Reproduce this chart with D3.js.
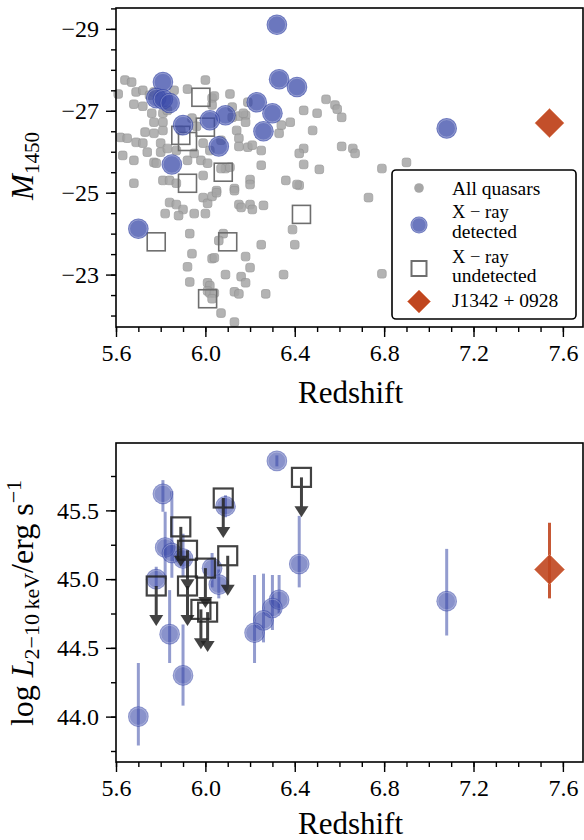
<!DOCTYPE html>
<html>
<head>
<meta charset="utf-8">
<script src="https://cdn.jsdelivr.net/npm/d3@7.9.0/dist/d3.min.js"></script>
<style>
  body { margin: 0; background: #fff; }
  svg text { font-family: "Liberation Serif", "Times New Roman", serif; fill: #000; }
  .tick line { stroke: #000; stroke-width: 1.4; }
  .tick text { font-size: 24px; }
</style>
</head>
<body>
<svg id="fig" width="584" height="840"></svg>
<script>
// ---- data ----
// all quasars (grey background sample)
const allZ = [5.61,5.64,5.67,5.69,5.72,5.75,5.77,5.86,5.92,6.00,6.11,6.03,6.19,5.68,5.72,5.76,5.81,5.83,5.94,6.15,
  6.18,6.12,6.17,6.18,5.62,5.65,5.69,5.72,5.73,5.77,5.81,5.80,5.77,5.81,6.14,6.15,6.15,6.19,6.21,6.25,
  6.33,6.34,6.38,6.44,6.50,6.54,6.58,6.59,6.61,6.48,6.44,6.42,6.44,6.51,6.61,6.66,6.67,6.79,6.90,6.42,
  6.73,6.79,5.63,5.68,5.74,5.77,5.80,5.83,5.87,5.92,5.95,5.78,5.68,5.81,5.84,5.87,5.99,6.09,6.13,6.05,
  6.25,6.11,6.07,6.20,6.20,6.36,6.41,5.84,5.87,5.90,5.82,5.88,5.95,6.00,5.99,6.01,6.03,6.05,6.13,6.15,
  6.16,6.20,6.21,6.26,5.93,6.08,6.06,6.25,6.40,6.39,5.94,6.03,6.04,6.18,6.20,5.92,6.09,6.16,6.18,6.35,
  5.93,6.01,6.02,6.01,6.02,6.04,6.03,6.13,6.15,6.27,6.07,6.13,5.98,6.01,6.03,5.96,5.99,6.12,6.04,6.07,
  6.02,5.89];
const allM = [-27.41,-27.75,-27.70,-27.46,-27.50,-27.38,-27.46,-27.50,-27.53,-27.75,-27.41,-27.31,-27.21,-27.16,-27.11,-26.94,-26.94,-27.01,-26.82,-26.87,
  -26.89,-27.09,-26.94,-26.72,-26.35,-26.33,-26.23,-26.21,-26.48,-26.45,-26.52,-26.21,-26.72,-26.72,-26.52,-26.33,-26.13,-26.11,-26.16,-26.03,
  -26.45,-26.65,-26.72,-27.01,-26.94,-27.28,-27.14,-27.04,-26.84,-26.52,-26.08,-25.96,-25.69,-25.57,-26.13,-26.08,-25.96,-25.59,-25.74,-25.18,
  -24.88,-23.02,-25.91,-25.79,-25.99,-25.74,-25.99,-26.08,-26.03,-25.79,-25.96,-25.72,-25.23,-25.30,-25.30,-25.23,-25.42,-25.59,-25.10,-25.05,
  -25.67,-25.62,-25.59,-25.32,-25.20,-25.30,-25.20,-24.76,-24.71,-24.59,-24.49,-24.44,-24.49,-24.49,-24.88,-24.74,-24.91,-25.00,-25.05,-24.71,
  -24.64,-24.71,-24.59,-24.69,-24.00,-24.00,-23.83,-23.73,-23.73,-24.10,-23.51,-23.39,-23.41,-23.44,-23.17,-23.19,-23.00,-22.95,-22.80,-23.00,
  -22.82,-22.80,-22.73,-22.60,-22.55,-22.55,-22.41,-22.58,-22.53,-22.53,-22.06,-21.84,-25.79,-25.72,-27.14,-26.62,-26.21,-26.84,-27.36,-26.28,
  -26.03,-26.52];

// X-ray detected (top panel)
const detZ = [6.32,6.33,6.41,5.81,5.78,5.81,5.84,6.23,6.30,6.09,6.02,5.90,6.26,6.06,5.85,5.70,7.08];
const detM = [-29.10,-27.77,-27.58,-27.70,-27.31,-27.28,-27.19,-27.21,-26.94,-26.89,-26.77,-26.65,-26.50,-26.13,-25.69,-24.12,-26.57];

// X-ray detected (bottom panel): log L and error range
const lxZ  = [6.32,5.81,6.09,5.82,5.85,5.90,5.78,6.03,6.06,6.42,6.33,6.30,6.26,6.22,5.84,5.90,5.70,7.08];
const lxL  = [45.86,45.62,45.53,45.23,45.19,45.15,45.00,45.08,44.96,45.11,44.85,44.79,44.70,44.61,44.60,44.30,44.00,44.84];
const lxLo = [45.82,45.49,45.45,45.00,45.01,45.02,44.94,44.94,44.86,44.94,44.75,44.63,44.54,44.39,44.39,44.08,43.79,44.59];
const lxHi = [45.90,45.72,45.61,45.49,45.64,45.33,45.09,45.19,45.07,45.46,45.03,45.03,45.04,45.03,44.92,44.67,44.39,45.22];

// X-ray undetected (upper limits)
const undZ = [5.98,6.00,5.89,5.92,5.92,6.08,5.78,6.10,6.01,6.43];
const undM = [-27.33,-26.60,-26.40,-26.25,-25.23,-25.50,-23.80,-23.80,-22.41,-24.47];
const undL = [44.78,45.08,45.38,45.21,44.95,45.59,44.95,45.17,44.76,45.74];
const undArrow = 0.25;

// J1342+0928
const jZ = 7.54, jM = -26.70, jL = 45.07, jLo = 44.86, jHi = 45.41;

// ticks
const zMajor = [5.6, 6.0, 6.4, 6.8, 7.2, 7.6];
const zMinor = d3.range(56, 77).map(d => d / 10);
const mMajor = [-29, -27, -25, -23];
const mMinor = d3.range(-59, -43).map(d => d / 2);
const lMajor = [44.0, 44.5, 45.0, 45.5];
const lMinor = d3.range(175, 184).map(d => d / 4);

const legendItems = ['All quasars', ['X \u2212 ray', 'detected'], ['X \u2212 ray', 'undetected'], 'J1342 + 0928'];

// ---- layout ----
const svg = d3.select('#fig');
const X0 = 116, X1 = 583;
const topR = [8, 327], botR = [443, 762];

const x    = d3.scaleLinear().domain([5.6, 7.69]).range([X0, X1]);
const yTop = d3.scaleLinear().domain([-29.51, -21.72]).range(topR);
const yBot = d3.scaleLinear().domain([43.67, 45.99]).range([botR[1], botR[0]]);

const BLUE = '#3a4aa8', RED = '#c0461f';

function diamond(cx, cy, r) {
  return `M${cx},${cy - r}L${cx + r},${cy}L${cx},${cy + r}L${cx - r},${cy}Z`;
}

function axes(g, y, yr, major, minor, fmt) {
  const bx = g.append('g').attr('transform', `translate(0,${yr[1]})`);
  bx.append('g').call(d3.axisBottom(x).tickValues(zMinor).tickSize(5).tickFormat(''));
  bx.append('g').call(d3.axisBottom(x).tickValues(zMajor).tickSize(10).tickPadding(7).tickFormat(d3.format('.1f')));
  const ly = g.append('g').attr('transform', `translate(${X0},0)`);
  ly.append('g').call(d3.axisLeft(y).tickValues(minor).tickSize(5).tickFormat(''));
  ly.append('g').call(d3.axisLeft(y).tickValues(major).tickSize(10).tickPadding(7).tickFormat(fmt));
  g.selectAll('.domain').remove();
  g.append('rect')
    .attr('x', X0).attr('y', yr[0]).attr('width', X1 - X0).attr('height', yr[1] - yr[0])
    .attr('fill', 'none').attr('stroke', '#000').attr('stroke-width', 1.6);
}

// ---- top panel ----
const topG = svg.append('g');

topG.selectAll('rect.all').data(allZ).join('rect')
  .attr('class', 'all')
  .attr('x', d => x(d) - 4.3).attr('y', (d, i) => yTop(allM[i]) - 4.3)
  .attr('width', 8.6).attr('height', 8.6).attr('rx', 2.5)
  .attr('fill', '#a6a6a6').attr('stroke', '#939393').attr('stroke-width', 0.8).attr('opacity', 0.85);

topG.selectAll('rect.und').data(undZ).join('rect')
  .attr('class', 'und')
  .attr('x', d => x(d) - 9).attr('y', (d, i) => yTop(undM[i]) - 9)
  .attr('width', 18).attr('height', 18)
  .attr('fill', 'none').attr('stroke', '#6e6e6e').attr('stroke-width', 1.6);

const detG = topG.selectAll('g.det').data(detZ).join('g')
  .attr('class', 'det')
  .attr('transform', (d, i) => `translate(${x(d)},${yTop(detM[i])})`);
detG.append('circle').attr('r', 10.3).attr('fill', BLUE).attr('fill-opacity', 0.75);
detG.append('circle').attr('r', 8.8).attr('fill', 'none').attr('stroke', '#fff').attr('stroke-opacity', 0.35).attr('stroke-width', 0.8);

topG.append('path').attr('d', diamond(x(jZ), yTop(jM), 14.5))
  .attr('fill', RED).attr('fill-opacity', 0.95).attr('stroke', '#e08a6a').attr('stroke-width', 0.8);

axes(topG, yTop, topR, mMajor, mMinor, d3.format('d'));

topG.append('text').attr('x', (X0 + X1) / 2 + 1).attr('y', 392).attr('dy', '0.35em')
  .attr('text-anchor', 'middle').attr('font-size', 31).text('Redshift');

const ml = topG.append('text').attr('transform', 'translate(33,166) rotate(-90)')
  .attr('text-anchor', 'middle').attr('font-size', 31);
ml.append('tspan').attr('font-style', 'italic').text('M');
ml.append('tspan').attr('font-size', 21).attr('dy', 6).text('1450');

// legend
const lg = topG.append('g');
lg.append('rect').attr('x', 392).attr('y', 170).attr('width', 184).attr('height', 149).attr('rx', 4)
  .attr('fill', '#fff').attr('stroke', '#000').attr('stroke-width', 1.6);
const LX = 419, TX = 452;
lg.append('circle').attr('cx', LX).attr('cy', 188).attr('r', 4.8).attr('fill', '#a6a6a6');
lg.append('circle').attr('cx', LX).attr('cy', 225).attr('r', 8.5).attr('fill', BLUE).attr('fill-opacity', 0.75);
lg.append('circle').attr('cx', LX).attr('cy', 225).attr('r', 7.2).attr('fill', 'none')
  .attr('stroke', '#fff').attr('stroke-opacity', 0.35).attr('stroke-width', 0.8);
lg.append('rect').attr('x', LX - 7.5).attr('y', 261).attr('width', 15).attr('height', 15)
  .attr('fill', 'none').attr('stroke', '#6e6e6e').attr('stroke-width', 2);
lg.append('path').attr('d', diamond(LX, 301.5, 11.5)).attr('fill', RED).attr('stroke', '#e08a6a').attr('stroke-width', 0.8);
const lineY = [[188], [211.5, 231], [256, 275.5], [300.5]];
legendItems.forEach((t, i) => {
  const lines = Array.isArray(t) ? t : [t];
  lines.forEach((s, k) => lg.append('text').attr('x', TX).attr('y', lineY[i][k] + 6.5)
    .attr('font-size', k === 0 && lines.length > 1 ? 18.5 : 19.5).text(s));
});

// ---- bottom panel ----
const botG = svg.append('g');

botG.selectAll('line.err').data(lxZ).join('line')
  .attr('class', 'err')
  .attr('x1', d => x(d)).attr('x2', d => x(d))
  .attr('y1', (d, i) => yBot(lxLo[i])).attr('y2', (d, i) => yBot(lxHi[i]))
  .attr('stroke', BLUE).attr('stroke-opacity', 0.55).attr('stroke-width', 3);

const lxG = botG.selectAll('g.lx').data(lxZ).join('g')
  .attr('class', 'lx')
  .attr('transform', (d, i) => `translate(${x(d)},${yBot(lxL[i])})`);
lxG.append('circle').attr('r', 10.3).attr('fill', BLUE).attr('fill-opacity', 0.6);
lxG.append('circle').attr('r', 8.8).attr('fill', 'none').attr('stroke', '#fff').attr('stroke-opacity', 0.35).attr('stroke-width', 0.8);

const ulG = botG.selectAll('g.ul').data(undZ).join('g')
  .attr('class', 'ul')
  .attr('transform', d => `translate(${x(d)},0)`)
  .attr('opacity', 0.85);
ulG.append('line')
  .attr('y1', (d, i) => yBot(undL[i])).attr('y2', (d, i) => yBot(undL[i] - undArrow))
  .attr('stroke', '#222').attr('stroke-width', 3);
ulG.append('path')
  .attr('d', (d, i) => { const c = yBot(undL[i] - undArrow); return `M-7,${c - 5.5}L7,${c - 5.5}L0,${c + 5.5}Z`; })
  .attr('fill', '#222');
ulG.append('rect')
  .attr('x', -9.5).attr('y', (d, i) => yBot(undL[i]) - 9.5)
  .attr('width', 19).attr('height', 19)
  .attr('fill', 'none').attr('stroke', '#222').attr('stroke-width', 2.2);

botG.append('line').attr('x1', x(jZ)).attr('x2', x(jZ)).attr('y1', yBot(jLo)).attr('y2', yBot(jHi))
  .attr('stroke', RED).attr('stroke-width', 3).attr('stroke-opacity', 0.9);
botG.append('path').attr('d', diamond(x(jZ), yBot(jL), 15))
  .attr('fill', RED).attr('fill-opacity', 0.9).attr('stroke', '#e08a6a').attr('stroke-width', 0.8);

axes(botG, yBot, botR, lMajor, lMinor, d3.format('.1f'));

botG.append('text').attr('x', (X0 + X1) / 2 + 1).attr('y', 823).attr('dy', '0.35em')
  .attr('text-anchor', 'middle').attr('font-size', 31).text('Redshift');

const ll = botG.append('text').attr('transform', 'translate(33,603) rotate(-90)')
  .attr('text-anchor', 'middle').attr('font-size', 32);
ll.append('tspan').text('log ');
ll.append('tspan').attr('font-style', 'italic').text('L');
ll.append('tspan').attr('font-size', 22).attr('dy', 6).text('2\u221210\u2009keV');
ll.append('tspan').attr('dy', -6).text('/erg s');
ll.append('tspan').attr('font-size', 22).attr('dy', -12).text('\u22121');
</script>
</body>
</html>
